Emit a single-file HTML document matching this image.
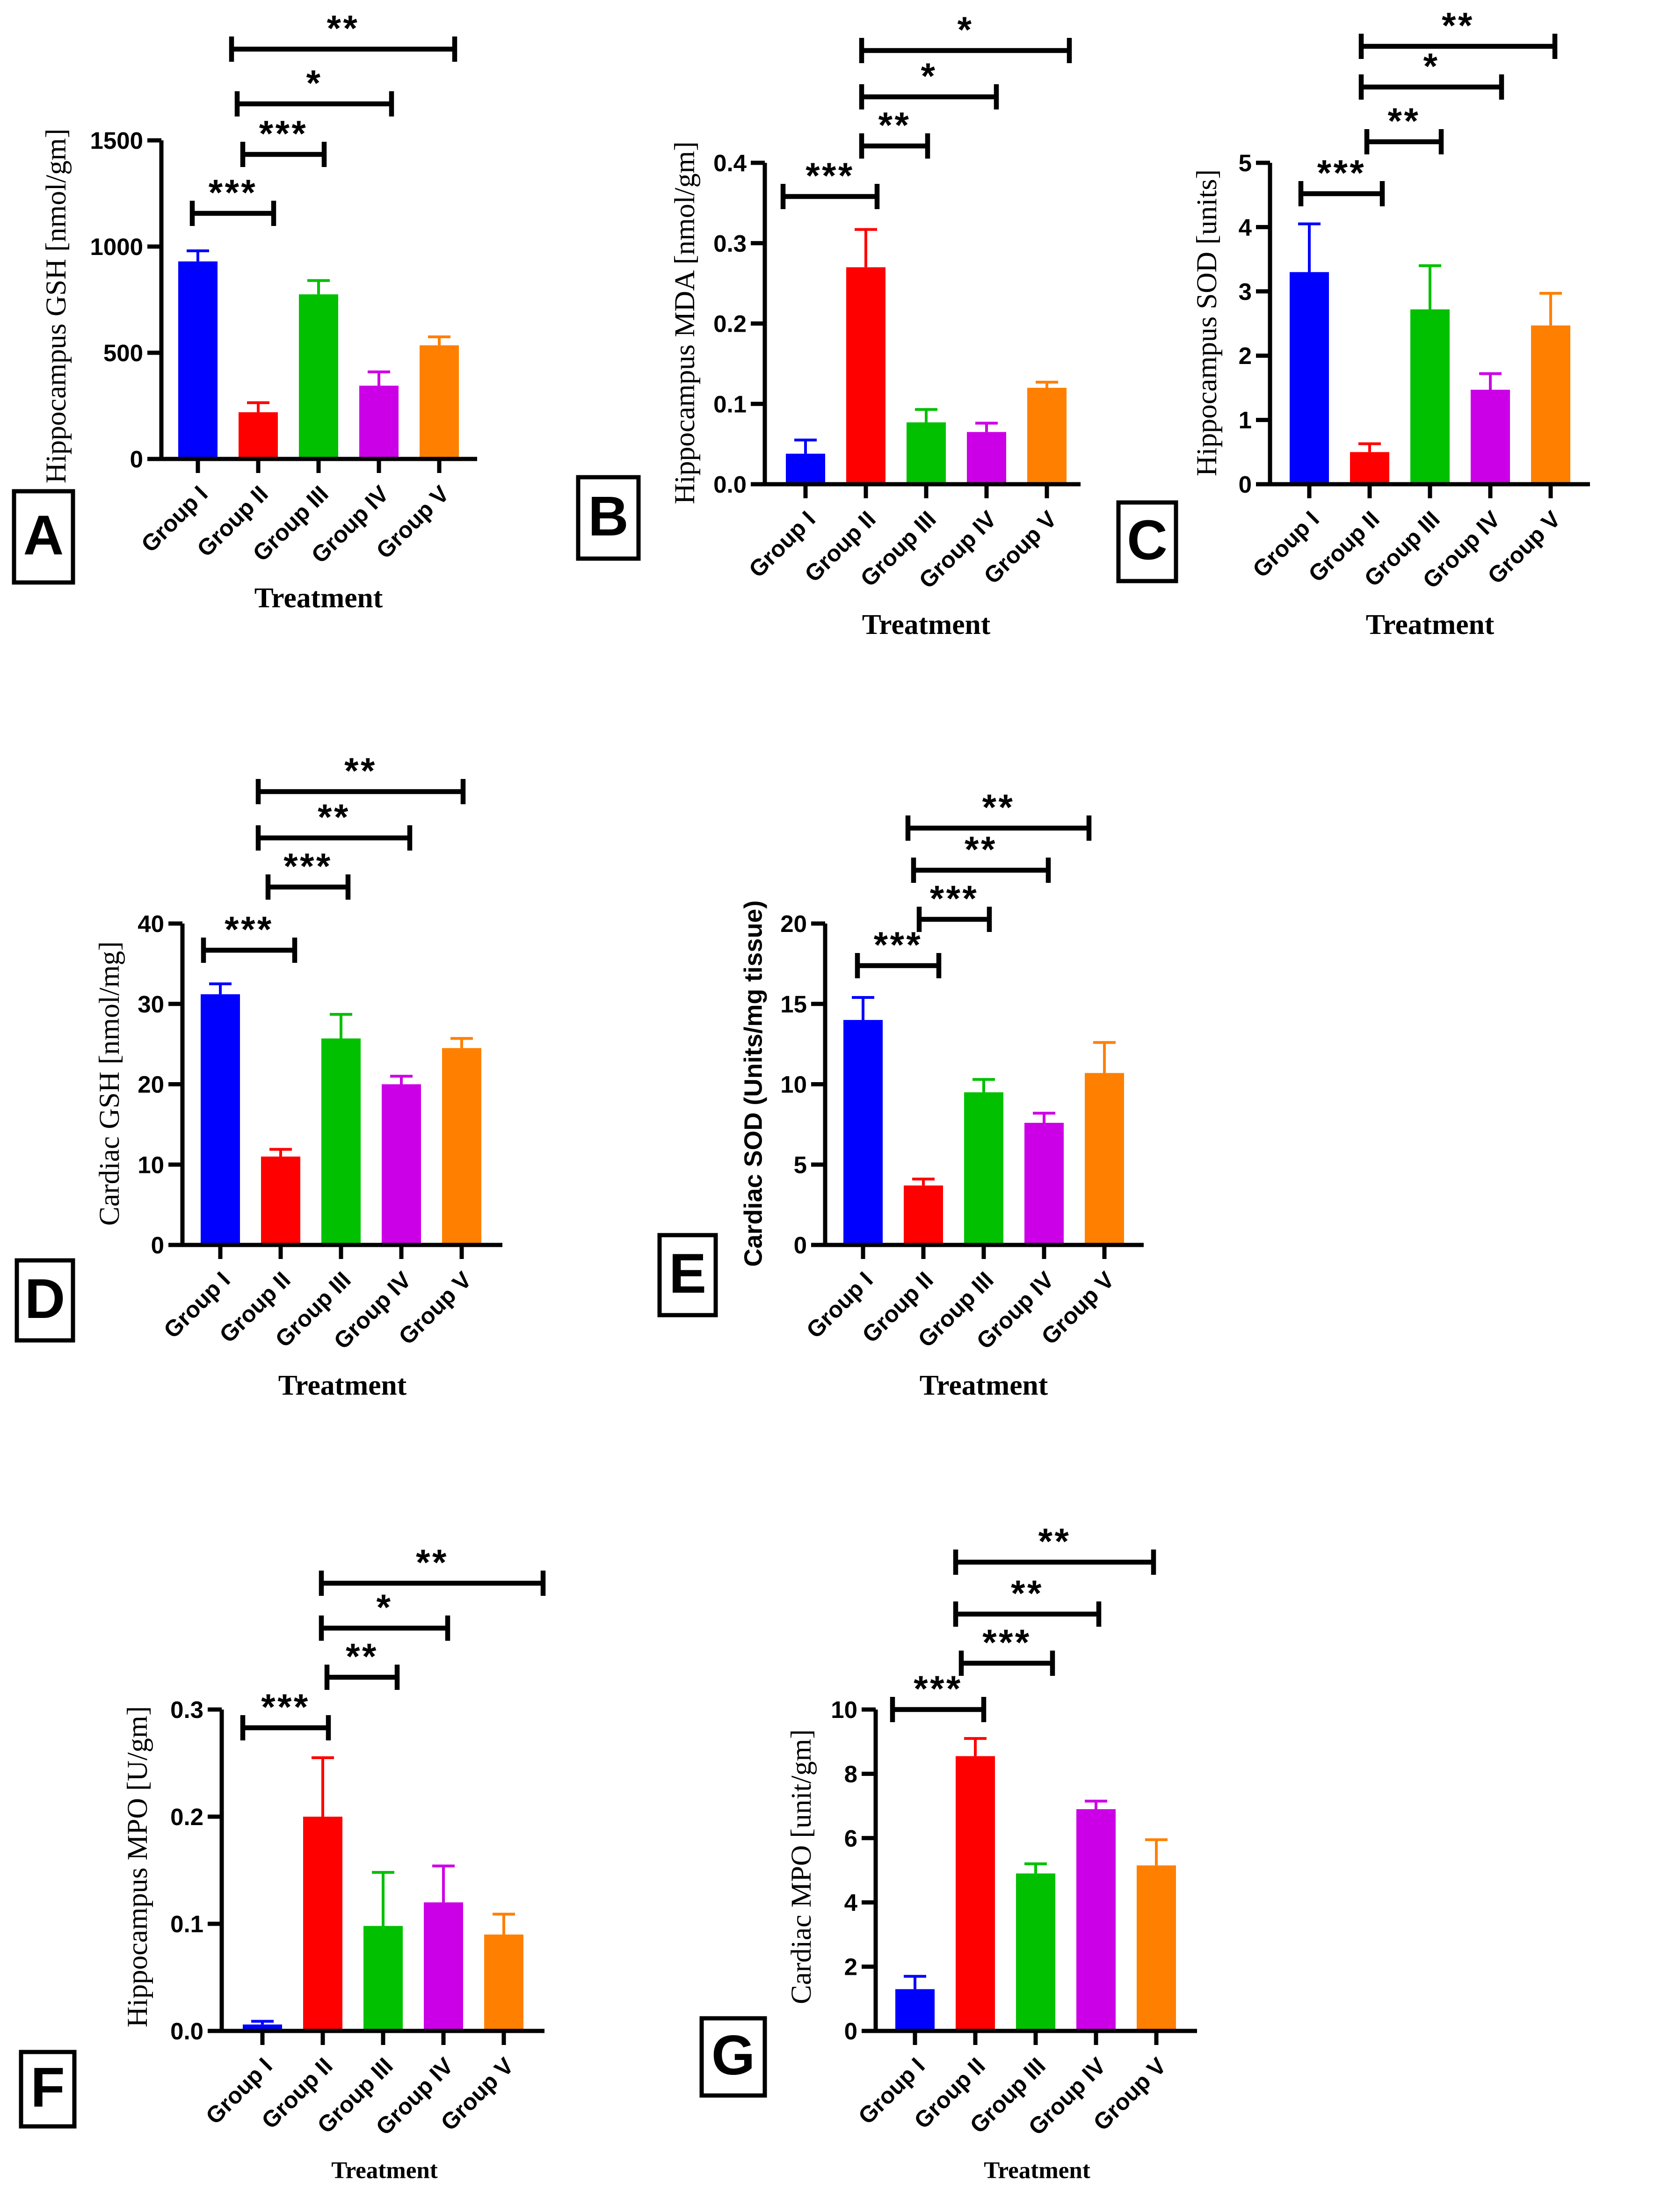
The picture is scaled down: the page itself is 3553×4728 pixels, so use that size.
<!DOCTYPE html>
<html><head><meta charset="utf-8"><style>
html,body{margin:0;padding:0;background:#fff;}
svg{display:block;}
</style></head><body>
<svg id="fig" xmlns="http://www.w3.org/2000/svg" width="3553" height="4728" viewBox="0 0 1184.33 1576">
<rect width="1184.33" height="1576" fill="#fff"/>
</svg>
<script>
const groups = ["Group I","Group II","Group III","Group IV","Group V"];
const colors = ["#0000ff","#ff0000","#00c000","#cc00e6","#ff8000"];
const valsA = [930,220,775,345,535];  const errA = [50,45,65,65,40];
const valsB = [0.038,0.27,0.077,0.065,0.12]; const errB = [0.017,0.047,0.016,0.011,0.007];
const valsC = [3.3,0.5,2.72,1.47,2.47]; const errC = [0.75,0.13,0.68,0.25,0.5];
const valsD = [31.2,11,25.7,20,24.5]; const errD = [1.3,0.9,3,1,1.2];
const valsE = [14,3.7,9.5,7.6,10.7]; const errE = [1.4,0.4,0.8,0.6,1.9];
const valsF = [0.006,0.2,0.098,0.12,0.09]; const errF = [0.003,0.055,0.05,0.034,0.019];
const valsG = [1.3,8.55,4.9,6.9,5.15]; const errG = [0.4,0.55,0.3,0.25,0.8];
const ticksA = [0,500,1000,1500];
const ticksB = [0.0,0.1,0.2,0.3,0.4];
const ticksC = [0,1,2,3,4,5];
const ticksD = [0,10,20,30,40];
const ticksE = [0,5,10,15,20];
const ticksF = [0.0,0.1,0.2,0.3];
const ticksG = [0,2,4,6,8,10];

const panels = [
 {id:"a",letter:"A",ax:115,y0:327,ytop:100,max:1500,x1:340,c0:141,vals:valsA,err:errA,ticks:ticksA,fmt:v=>String(v),
  title:"Hippocampus GSH [nmol/gm]",tx:42,ty:218,box:[10,350,42,65],trx:227,try_:428,trs:20.5,
  br:[[137,195,152,"***"],[173,231,110,"***"],[169,279,74,"*"],[165,324,35,"**"]]},
 {id:"b",letter:"B",ax:545,y0:345,ytop:116,max:0.4,x1:770,c0:574,vals:valsB,err:errB,ticks:ticksB,fmt:v=>v.toFixed(1),
  title:"Hippocampus MDA [nmol/gm]",tx:490,ty:230,box:[412,340,43,58],trx:660,try_:447,trs:20.5,
  br:[[558,625,140,"***"],[614,661,104,"**"],[614,710,69,"*"],[614,762,36,"*"]]},
 {id:"c",letter:"C",ax:905,y0:345,ytop:116,max:5,x1:1133,c0:933,vals:valsC,err:errC,ticks:ticksC,fmt:v=>String(v),
  title:"Hippocampus SOD [units]",tx:862,ty:230,box:[797,358,41,56],trx:1019,try_:447,trs:20.5,
  br:[[927,985,138,"***"],[974,1027,101,"**"],[970,1070,62,"*"],[970,1108,33,"**"]]},
 {id:"d",letter:"D",ax:130,y0:887,ytop:658,max:40,x1:358,c0:157,vals:valsD,err:errD,ticks:ticksD,fmt:v=>String(v),
  title:"Cardiac GSH [nmol/mg]",tx:80,ty:772,box:[12,898,40,57],trx:244,try_:989,trs:20.5,
  br:[[145,210,677,"***"],[191,248,632,"***"],[184,292,597,"**"],[184,330,564,"**"]]},
 {id:"e",letter:"E",ax:588,y0:887,ytop:658,max:20,x1:815,c0:615,vals:valsE,err:errE,ticks:ticksE,fmt:v=>String(v),
  title:"Cardiac SOD (Units/mg tissue)",tx:538,ty:772,box:[470,880,40,57],trx:701,try_:989,trs:20.5,sansTitle:true,
  br:[[611,669,688,"***"],[655,705,655,"***"],[651,747,620,"**"],[647,776,590,"**"]]},
 {id:"f",letter:"F",ax:158,y0:1447,ytop:1218,max:0.3,x1:388,c0:187,vals:valsF,err:errF,ticks:ticksF,fmt:v=>v.toFixed(1),
  title:"Hippocampus MPO [U/gm]",tx:100,ty:1330,box:[15,1462,38,53],trx:274,try_:1548,trs:17,
  br:[[173,234,1231,"***"],[233,283,1195,"**"],[229,319,1160,"*"],[229,387,1128,"**"]]},
 {id:"g",letter:"G",ax:624,y0:1447,ytop:1218,max:10,x1:853,c0:652,vals:valsG,err:errG,ticks:ticksG,fmt:v=>String(v),
  title:"Cardiac MPO [unit/gm]",tx:573,ty:1330,box:[500,1438,45,55],trx:739,try_:1548,trs:17,
  br:[[636,701,1218,"***"],[685,750,1185,"***"],[681,783,1150,"**"],[681,822,1113,"**"]]}
];

const NS="http://www.w3.org/2000/svg";
const svg=document.getElementById("fig");
function mk(tag,attrs,parent,text){const e=document.createElementNS(NS,tag);for(const k in attrs)e.setAttribute(k,attrs[k]);if(text!==undefined)e.textContent=text;parent.appendChild(e);return e;}
const SANS='"Liberation Sans", "DejaVu Sans", sans-serif';
const SERIF='"Liberation Serif", serif';
const SP=43, BW=28;

panels.forEach(p=>{
  const g=mk("g",{},svg);
  
  
  const y=v=>p.y0-(v/p.max)*(p.y0-p.ytop);
  const x=i=>p.c0+i*SP;
  p.vals.forEach((v,i)=>{
    const top=y(v+p.err[i]);
    const eb=mk("line",{x1:x(i),x2:x(i),y1:y(v),y2:top,stroke:colors[i],"stroke-width":2},g);
    
    
    const cap=mk("line",{x1:x(i)-8,x2:x(i)+8,y1:top,y2:top,stroke:colors[i],"stroke-width":2},g);
    
    
    const b=mk("rect",{x:x(i)-BW/2,y:y(v),width:BW,height:p.y0-y(v),fill:colors[i]},g);
    
    
  });
  const ya=mk("line",{x1:p.ax,x2:p.ax,y1:p.ytop,y2:p.y0+1.5,stroke:"#000","stroke-width":3},g);
  
  
  const xa=mk("line",{x1:p.ax-10,x2:p.x1,y1:p.y0,y2:p.y0,stroke:"#000","stroke-width":3},g);
  
  
  p.ticks.forEach(t=>{
    const tl=mk("line",{x1:p.ax-10,x2:p.ax,y1:y(t),y2:y(t),stroke:"#000","stroke-width":3},g);
    
    
    const tt=mk("text",{x:p.ax-13,y:y(t)+6,"text-anchor":"end","font-family":SANS,"font-weight":"bold","font-size":17},g,p.fmt(t));
    
    
  });
  groups.forEach((gn,i)=>{
    const tl=mk("line",{x1:x(i),x2:x(i),y1:p.y0,y2:p.y0+10,stroke:"#000","stroke-width":3},g);
    
    
    const tx=mk("text",{x:x(i)+8,y:p.y0+26,"text-anchor":"end","font-family":SANS,"font-weight":"bold","font-size":16.5,transform:`rotate(-45 ${x(i)+8} ${p.y0+26})`},g,gn);
    
    
  });
  const yt=mk("text",{x:p.tx,y:p.ty,"text-anchor":"middle","font-family":p.sansTitle?SANS:SERIF,"font-weight":p.sansTitle?"bold":"normal","font-size":p.sansTitle?18:20.5,transform:`rotate(-90 ${p.tx} ${p.ty})`,"dominant-baseline":"middle"},g,p.title);
  
  
  const xt=mk("text",{x:p.trx,y:p.try_,"text-anchor":"middle","font-family":SERIF,"font-weight":"bold","font-size":p.trs,"dominant-baseline":"middle"},g,"Treatment");
  
  
  const [bx,by,bw,bh]=p.box;
  const lb=mk("rect",{x:bx,y:by,width:bw,height:bh,fill:"none",stroke:"#000","stroke-width":3},g);
  
  
  const lt=mk("text",{x:bx+bw/2,y:by+bh/2+2,"text-anchor":"middle","dominant-baseline":"middle","font-family":SANS,"font-weight":"bold","font-size":40},g,p.letter);
  
  
  p.br.forEach(([a,b,yy,s])=>{
    const bg=mk("g",{},g);
    
    
    mk("line",{x1:a,x2:b,y1:yy,y2:yy,stroke:"#000","stroke-width":3.5},bg);
    mk("line",{x1:a,x2:a,y1:yy-9,y2:yy+9,stroke:"#000","stroke-width":3.5},bg);
    mk("line",{x1:b,x2:b,y1:yy-9,y2:yy+9,stroke:"#000","stroke-width":3.5},bg);
    const st=mk("text",{x:(a+b)/2,y:yy-6,"text-anchor":"middle","font-family":SANS,"font-weight":"bold","font-size":26,"letter-spacing":"1.5"},bg,s);
    
    
  });
});
</script>
</body></html>
